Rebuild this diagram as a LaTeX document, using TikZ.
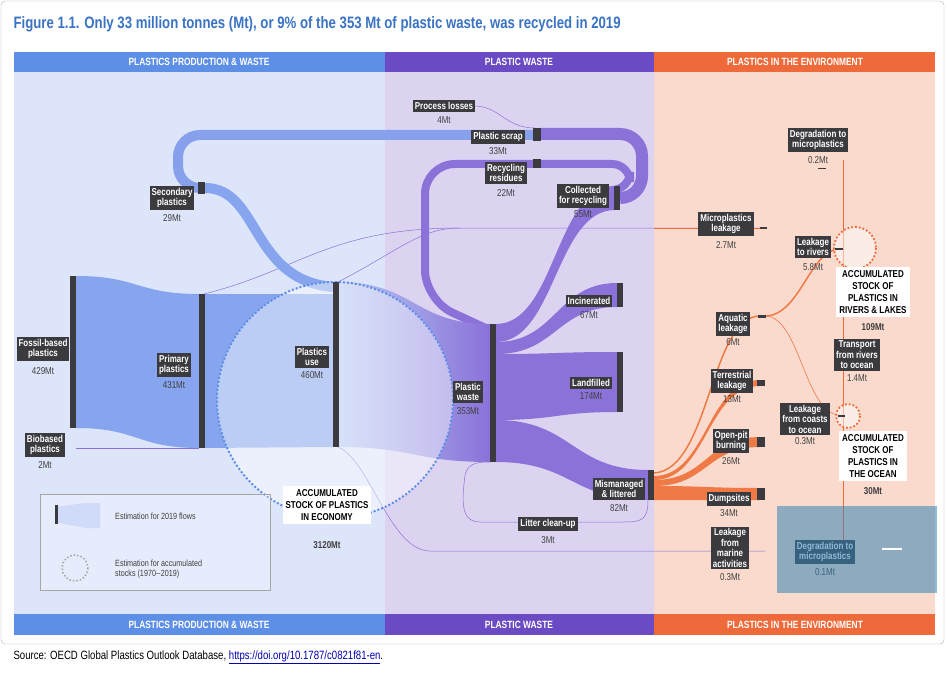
\documentclass[tikz,border=0pt]{standalone}
\usepackage{fontspec}
\setmainfont{Liberation Sans}
\newfontfamily\cond[FakeStretch=0.8]{Liberation Sans}
\newfontfamily\condb[FakeStretch=0.8]{Liberation Sans Bold}
\usetikzlibrary{shapes.geometric}
\definecolor{hblue}{HTML}{5E8FE6}
\definecolor{hpurple}{HTML}{6A4BC4}
\definecolor{horange}{HTML}{EE6A3A}
\definecolor{bgblue}{HTML}{DCE5FA}
\definecolor{bgpurple}{HTML}{DCD3F1}
\definecolor{bgorange}{HTML}{F9DACD}
\definecolor{fblue}{HTML}{86A5EE}
\definecolor{fpurple}{HTML}{8A72D8}
\definecolor{forange}{HTML}{F07A45}
\definecolor{barc}{HTML}{3A3A3F}
\definecolor{titleblue}{HTML}{3A73C4}
\newcommand\band[7]{\fill[#7] (#1,#2) .. controls ({(#1+#4)/2},#2) and ({(#1+#4)/2},#5) .. (#4,#5) -- (#4,#6) .. controls ({(#1+#4)/2},#6) and ({(#1+#4)/2},#3) .. (#1,#3) -- cycle;}
\tikzset{
 lbl/.style={fill=barc,text=white,font=\condb\fontsize{10}{10.5}\selectfont,align=center,inner sep=2pt},
 val/.style={font=\cond\fontsize{10}{11}\selectfont,text=black!75,inner sep=0pt},
 stock/.style={fill=white,font=\condb\fontsize{10}{12}\selectfont,align=center,inner sep=3pt},
 hdr/.style={font=\condb\fontsize{10.5}{11}\selectfont,text=white},
 bar/.style={fill=barc},
 thin/.style={draw=#1,line width=0.5pt},
}
\begin{document}
\begin{tikzpicture}[x=1pt,y=-1pt]
\useasboundingbox (0,0) rectangle (947,679);
\fill[white] (0,0) rectangle (947,679);
\draw[gray!60,rounded corners=4] (1,1) rectangle (944,644);
\node[anchor=west,text=titleblue,font=\condb\fontsize{16.5}{17}\selectfont] (title) at (10,24) {Figure 1.1. Only 33 million tonnes (Mt), or 9\% of the 353 Mt of plastic waste, was recycled in 2019};
% backgrounds
\fill[bgblue] (14,72) rectangle (385,614);
\fill[bgpurple] (385,72) rectangle (654,614);
\fill[bgorange] (654,72) rectangle (935,614);
\fill[hblue] (14,52) rectangle (385,72);
\fill[hpurple] (385,52) rectangle (654,72);
\fill[horange] (654,52) rectangle (935,72);
\fill[hblue] (14,614) rectangle (385,635);
\fill[hpurple] (385,614) rectangle (654,635);
\fill[horange] (654,614) rectangle (935,635);
\node[hdr] (h1) at (199,62) {PLASTICS PRODUCTION \& WASTE};
\node[hdr] (h2) at (519,62) {PLASTIC WASTE};
\node[hdr] (h3) at (795,62) {PLASTICS IN THE ENVIRONMENT};
\node[hdr] (f1) at (199,625) {PLASTICS PRODUCTION \& WASTE};
\node[hdr] (f2) at (519,625) {PLASTIC WASTE};
\node[hdr] (f3) at (795,625) {PLASTICS IN THE ENVIRONMENT};
\node[anchor=west,font=\cond\fontsize{12}{13}\selectfont] (src) at (10,657) {Source: OECD Global Plastics Outlook Database, \textcolor{blue!70!black}{\underline{https://doi.org/10.1787/c0821f81-en}}.};
% thin lines
\draw[thin=fpurple] (204,294) .. controls (300,270) and (330,228) .. (460,228) -- (765,228);
\draw[thin=fpurple] (338,282) .. controls (400,250) and (420,228) .. (460,228);
\draw[thin=horange] (654,228) -- (765,228);
\draw[thin=fpurple] (76,448) -- (199,448);
\draw[thin=fpurple] (338,447) .. controls (370,460) and (390,551) .. (430,551) -- (765,551);
\draw[thin=horange] (843,160) -- (843,540);
\draw[thin=fpurple] (648,500) .. controls (648,522) and (640,522) .. (620,522) -- (480,522) .. controls (460,522) and (462,500) .. (465,475) .. controls (468,462) and (480,462) .. (490,462);
\draw[thin=fpurple] (474,106) .. controls (500,106) and (505,128) .. (535,128);
% secondary / recycling loops
\draw[line width=10pt,fblue!90!fpurple,rounded corners=22] (200,188) -- (178,188) -- (178,135) -- (535,135);
\draw[line width=10pt,fblue] (205,188) .. controls (260,188) and (250,280) .. (333,287);
\draw[line width=12pt,fpurple,rounded corners=22] (620,198) -- (642,198) -- (642,134) -- (541,134);
\draw[line width=8pt,fpurple,rounded corners=18] (620,190) -- (630,190) -- (630,164) -- (541,164);
\draw[line width=8pt,fpurple,rounded corners=30] (535,164) -- (425,164) -- (425,300) -- (490,330);
% main flows
\band{76}{276}{428}{199}{294}{448}{fblue}
\band{204}{294}{448}{333}{294}{447}{fblue}
\shade[left color=fblue!60!white,right color=fpurple] (338,282) .. controls (414,282) and (414,324) .. (490,324) -- (490,462) .. controls (414,462) and (414,447) .. (338,447) -- cycle;
\band{496}{324}{342}{615}{186}{210}{fpurple}
\band{496}{342}{354}{617}{283}{307}{fpurple}
\band{496}{354}{420}{617}{352}{412}{fpurple}
\band{496}{420}{462}{648}{470}{500}{fpurple}
\band{654}{486}{500}{760}{488}{500}{forange}
\band{654}{480}{486}{760}{437}{447}{forange}
\band{654}{476}{480}{760}{380}{386}{forange}
\draw[forange,line width=1.5pt] (654,473) .. controls (710,470) and (710,316) .. (760,316);
\draw[forange,line width=1.5pt] (765,316) .. controls (800,316) and (810,249) .. (840,249);
\draw[thin=horange] (765,316) .. controls (800,316) and (805,415) .. (840,415);
% circles
\fill[white,opacity=0.45] (335,400) circle (118);
\draw[hblue,dotted,line width=2pt] (335,400) circle (118);
\fill[white,opacity=0.5] (855,248) circle (21);
\draw[horange,dotted,line width=1.8pt] (855,248) circle (21);
\fill[white,opacity=0.5] (848,416) circle (12);
\draw[horange,dotted,line width=1.8pt] (848,416) circle (12);
% bars
\fill[bar] (70,276) rectangle (76,428);
\fill[bar] (199,294) rectangle (205,448);
\fill[bar] (333,282) rectangle (339,447);
\fill[bar] (490,324) rectangle (496,462);
\fill[bar] (198,182) rectangle (205,194);
\fill[bar] (533,128) rectangle (541,141);
\fill[bar] (533,159) rectangle (541,168);
\fill[bar] (614,186) rectangle (620,210);
\fill[bar] (617,283) rectangle (623,307);
\fill[bar] (617,352) rectangle (623,412);
\fill[bar] (648,470) rectangle (654,500);
\fill[bar] (757,380) rectangle (765,386);
\fill[bar] (757,437) rectangle (765,447);
\fill[bar] (757,488) rectangle (765,500);
\fill[bar] (758,315) rectangle (766,318);
\fill[bar] (760,227) rectangle (767,229);
\fill[bar] (835,248) rectangle (843,250);
\fill[bar] (838,415) rectangle (845,417);
\fill[bar] (818,168) rectangle (826,169);
% labels
\node[lbl] (pl) at (444,106) {Process losses}; \node[val] at (444,120) {4Mt};
\node[lbl] (ps) at (498,137) {Plastic scrap}; \node[val] at (498,151) {33Mt};
\node[lbl] (rr) at (506,173) {Recycling\\residues}; \node[val] at (506,193) {22Mt};
\node[lbl] (cr) at (583,196) {Collected\\for recycling}; \node[val] at (583,214) {55Mt};
\node[lbl] (sp) at (172,198) {Secondary\\plastics}; \node[val] at (172,218) {29Mt};
\node[lbl] (fb) at (43,349) {Fossil-based\\plastics}; \node[val] at (43,371) {429Mt};
\node[lbl] (bb) at (45,445) {Biobased\\plastics}; \node[val] at (45,465) {2Mt};
\node[lbl] (pp) at (174,365) {Primary\\plastics}; \node[val] at (174,385) {431Mt};
\node[lbl] (pu) at (312,357) {Plastics\\use}; \node[val] at (312,375) {460Mt};
\node[lbl] (pw) at (468,392) {Plastic\\waste}; \node[val] at (468,411) {353Mt};
\node[lbl] (in) at (589,301) {Incinerated}; \node[val] at (589,315) {67Mt};
\node[lbl] (lf) at (591,383) {Landfilled}; \node[val] at (591,396) {174Mt};
\node[lbl] (ml) at (619,489) {Mismanaged\\\& littered}; \node[val] at (619,508) {82Mt};
\node[lbl] (lc) at (548,524) {Litter clean-up}; \node[val] at (548,540) {3Mt};
\node[lbl] (mp) at (726,224) {Microplastics\\leakage}; \node[val] at (726,245) {2.7Mt};
\node[lbl] (d1) at (818,140) {Degradation to\\microplastics}; \node[val] at (818,160) {0.2Mt};
\node[lbl] (lr) at (813,247) {Leakage\\to rivers}; \node[val] at (813,267) {5.8Mt};
\node[lbl] (aq) at (733,324) {Aquatic\\leakage}; \node[val] at (733,342) {6Mt};
\node[lbl] (tr) at (857,355) {Transport\\from rivers\\to ocean}; \node[val] at (857,378) {1.4Mt};
\node[lbl] (te) at (732,381) {Terrestrial\\leakage}; \node[val] at (732,399) {13Mt};
\node[lbl] (lco) at (805,419) {Leakage\\from coasts\\to ocean}; \node[val] at (805,441) {0.3Mt};
\node[lbl] (ob) at (731,441) {Open-pit\\burning}; \node[val] at (731,461) {26Mt};
\node[lbl] (ds) at (729,499) {Dumpsites}; \node[val] at (729,513) {34Mt};
\node[lbl] (lm) at (730,548) {Leakage\\from\\marine\\activities}; \node[val] at (730,577) {0.3Mt};
\node[lbl] (d2) at (825,552) {Degradation to\\microplastics}; \node[val] at (825,572) {0.1Mt};
\node[stock] (se) at (327,505) {ACCUMULATED\\STOCK OF PLASTICS\\IN ECONOMY};
\node[val,font=\condb\fontsize{10}{11}\selectfont] at (327,545) {3120Mt};
\node[stock] (sr) at (873,292) {ACCUMULATED\\STOCK OF\\PLASTICS IN\\RIVERS \& LAKES};
\node[val,font=\condb\fontsize{10}{11}\selectfont] at (873,327) {109Mt};
\node[stock] (so) at (873,456) {ACCUMULATED\\STOCK OF\\PLASTICS IN\\THE OCEAN};
\node[val,font=\condb\fontsize{10}{11}\selectfont] at (873,491) {30Mt};
% legend
\draw[gray!70,fill=white,fill opacity=0.3] (40,494) rectangle (270,590);
\fill[fblue!40] (55,507) -- (85,503) -- (100,503) -- (100,528) -- (85,528) -- (55,522) -- cycle;
\fill[barc] (55,505) rectangle (58,524);
\node[anchor=west,val,font=\cond\fontsize{9}{10}\selectfont] (lg1) at (115,516) {Estimation for 2019 flows};
\draw[gray!70,dotted,line width=1.5pt] (75,568) circle (13);
\node[anchor=west,val,font=\cond\fontsize{9}{10}\selectfont,align=left] (lg2) at (115,569) {Estimation for accumulated\\stocks (1970--2019)};
% overlay
\fill[hblue!70!black!80!cyan,opacity=0.55] (777,506) rectangle (937,593);
\draw[white,line width=2pt] (882,549) -- (902,549);
\end{tikzpicture}
\end{document}
